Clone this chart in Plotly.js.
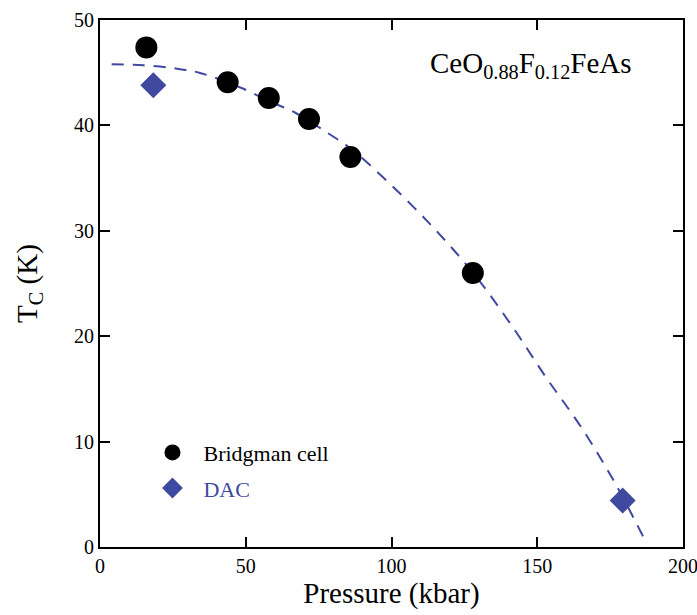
<!DOCTYPE html>
<html>
<head>
<meta charset="utf-8">
<script src="https://cdn.plot.ly/plotly-3.0.1.min.js"></script>
<style>
  html, body { margin: 0; padding: 0; background: #fff; }
  #chart { width: 697px; height: 615px; }
</style>
</head>
<body>
<div id="chart"></div>
<script>
// Tc versus pressure for CeO0.88F0.12FeAs
const bridgmanP = [15.9, 43.8, 57.9, 71.7, 85.9, 127.9];
const bridgmanTc = [47.4, 44.1, 42.6, 40.6, 37.0, 26.0];

const dacP = [18.3, 179.3];
const dacTc = [43.8, 4.4];

// guide curve through the data (dashed)
const fitP = [4, 15, 26, 34, 49, 58, 67, 78, 86, 97, 113, 128, 141, 153, 165, 176, 186.5];
const fitTc = [45.8, 45.7, 45.4, 45.0, 43.5, 42.3, 41.2, 39.3, 37.8, 35.1, 30.7, 26.0, 21.1, 16.1, 11.4, 6.4, 0.9];

const xTicks = [0, 50, 100, 150, 200];
const yTicks = [0, 10, 20, 30, 40, 50];

const blue = '#4049a0';
const serif = '"Liberation Serif", "Times New Roman", serif';
const pad = '\u00A0\u00A0';

const traces = [
  {
    x: fitP, y: fitTc, type: 'scatter', mode: 'lines',
    line: { color: blue, width: 2, dash: '12px,9px', shape: 'spline', smoothing: 1 },
    showlegend: false, hoverinfo: 'skip'
  },
  {
    x: bridgmanP, y: bridgmanTc, type: 'scatter', mode: 'markers',
    name: pad + 'Bridgman cell', legendgroup: 'a',
    marker: { symbol: 'circle', size: 22, color: '#000' }
  },
  {
    x: dacP, y: dacTc, type: 'scatter', mode: 'markers',
    name: pad + '<span style="color:' + blue + '">DAC</span>', legendgroup: 'b',
    marker: { symbol: 'diamond', size: 20, color: blue }
  }
];

const axisCommon = {
  showgrid: false, zeroline: false,
  showline: true, linecolor: '#000', linewidth: 2, mirror: 'allticks',
  ticks: 'inside', ticklen: 10, tickwidth: 2, tickcolor: '#000',
  ticklabeloverflow: 'allow',
  tickfont: { family: serif, size: 20, color: '#000' }
};

const layout = {
  width: 697, height: 615,
  font: { family: serif, size: 20, color: '#000' },
  margin: { l: 100, r: 14, t: 20, b: 68 },
  paper_bgcolor: '#fff', plot_bgcolor: '#fff',
  xaxis: Object.assign({}, axisCommon, {
    range: [0, 200], tickvals: xTicks, ticktext: xTicks.map(String),
    title: { text: 'Pressure (kbar)', font: { family: serif, size: 29, color: '#000' }, standoff: 4 }
  }),
  yaxis: Object.assign({}, axisCommon, {
    range: [0, 50], tickvals: yTicks, ticktext: yTicks.map(String),
    title: { text: 'T<sub>C</sub> (K)', font: { family: serif, size: 29, color: '#000' }, standoff: 28 }
  }),
  legend: {
    x: 0.09, y: 0.219, xanchor: 'left', yanchor: 'top',
    bgcolor: 'rgba(0,0,0,0)', borderwidth: 0,
    font: { family: serif, size: 22, color: '#000' },
    itemsizing: 'trace', tracegroupgap: 4
  },
  annotations: [{
    x: 148, y: 45.7, xref: 'x', yref: 'y', showarrow: false,
    text: 'CeO<sub>0.88</sub>F<sub>0.12</sub>FeAs',
    font: { family: serif, size: 29, color: '#000' }
  }]
};

Plotly.newPlot('chart', traces, layout, { displayModeBar: false, staticPlot: true });
</script>
</body>
</html>
